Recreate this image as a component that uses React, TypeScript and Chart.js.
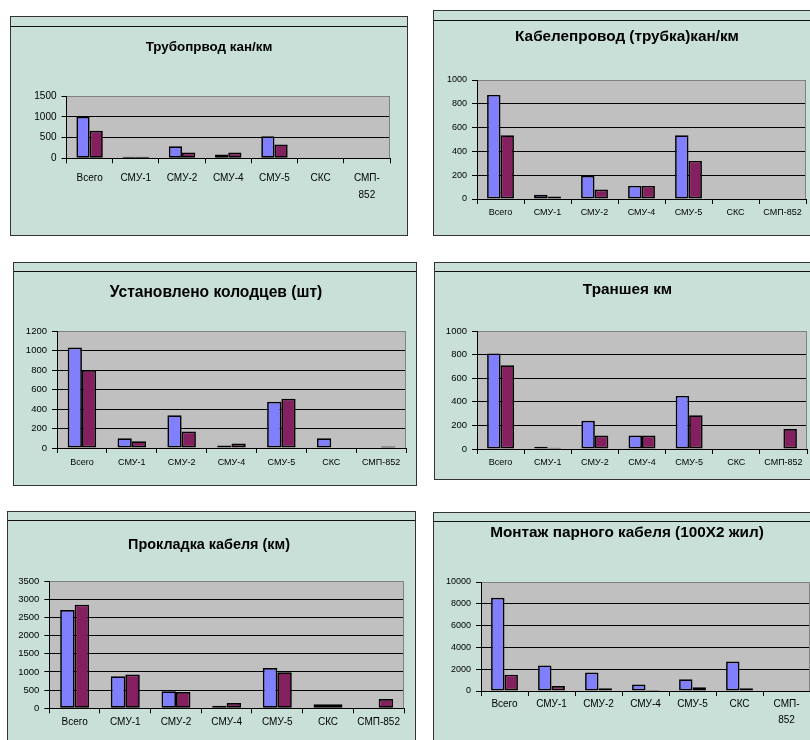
import React, { useEffect, useRef } from 'react';
import { Chart, registerables } from 'chart.js';

Chart.register(...registerables);

// ---------- data ----------
const categories = ['Всего', 'СМУ-1', 'СМУ-2', 'СМУ-4', 'СМУ-5', 'СКС', 'СМП-852'];
const categoriesWrapped = ['Всего', 'СМУ-1', 'СМУ-2', 'СМУ-4', 'СМУ-5', 'СКС', ['СМП-', '852']];
const seriesNames = ['Ряд1', 'Ряд2'];

const pipeTitle = 'Трубопрвод кан/км';
const pipeSeries1 = [1000, 40, 290, 90, 530, 0, 0];
const pipeSeries2 = [665, 40, 140, 140, 335, 0, 0];
const pipeAxis = [0, 1500, 500];

const conduitTitle = 'Кабелепровод (трубка)кан/км';
const conduitSeries1 = [875, 35, 195, 110, 535, 0, 0];
const conduitSeries2 = [535, 20, 80, 110, 320, 0, 0];
const conduitAxis = [0, 1000, 200];

const wellsTitle = 'Установлено колодцев (шт)';
const wellsSeries1 = [1030, 100, 335, 25, 475, 100, 0];
const wellsSeries2 = [800, 70, 170, 45, 505, 0, 15];
const wellsAxis = [0, 1200, 200];

const trenchTitle = 'Траншея км';
const trenchSeries1 = [810, 20, 240, 115, 450, 0, 0];
const trenchSeries2 = [710, 10, 115, 115, 285, 0, 170];
const trenchAxis = [0, 1000, 200];

const cableTitle = 'Прокладка кабеля (км)';
const cableSeries1 = [2700, 880, 470, 70, 1110, 110, 0];
const cableSeries2 = [2850, 930, 450, 145, 990, 110, 255];
const cableAxis = [0, 3500, 500];

const mountTitle = 'Монтаж парного кабеля (100X2 жил)';
const mountSeries1 = [8550, 2350, 1700, 600, 1070, 2700, 0];
const mountSeries2 = [1500, 450, 250, 100, 350, 250, 0];
const mountAxis = [0, 10000, 2000];

// ---------- styles ----------
const FONT = "'Liberation Sans', Arial, sans-serif";
const PANEL_BG = '#C8E0D8';
const PLOT_BG = '#C0C0C0';
const BLUE = '#8080FF';
const PLUM = '#84205F';

type Panel = {
  title: string;
  labels: (string | string[])[];
  s1: number[];
  s2: number[];
  axis: number[];
  left: number; top: number; width: number; height: number; lineY: number;
  pl: number; pt: number; pr: number; pb: number;
  titleX: number; titleY: number; titleSize: number;
  xFont: number; xLH: number; xOff: number; yFont: number;
};

const panels: Panel[] = [
  { title: pipeTitle, labels: categoriesWrapped, s1: pipeSeries1, s2: pipeSeries2, axis: pipeAxis,
    left: 10, top: 16, width: 398, height: 220, lineY: 10,
    pl: 66.5, pt: 96, pr: 390, pb: 158.3, titleX: 209, titleY: 47, titleSize: 13.4,
    xFont: 10, xLH: 1.7, xOff: 20, yFont: 10 },
  { title: conduitTitle, labels: categories, s1: conduitSeries1, s2: conduitSeries2, axis: conduitAxis,
    left: 433, top: 10, width: 388, height: 226, lineY: 10,
    pl: 477, pt: 80, pr: 806, pb: 199, titleX: 627, titleY: 37, titleSize: 15.3,
    xFont: 9, xLH: 1.2, xOff: 14, yFont: 9 },
  { title: wellsTitle, labels: categories, s1: wellsSeries1, s2: wellsSeries2, axis: wellsAxis,
    left: 13, top: 262, width: 404, height: 224, lineY: 9,
    pl: 57, pt: 331, pr: 406, pb: 448, titleX: 216, titleY: 293, titleSize: 15.6,
    xFont: 9, xLH: 1.2, xOff: 15, yFont: 9.5 },
  { title: trenchTitle, labels: categories, s1: trenchSeries1, s2: trenchSeries2, axis: trenchAxis,
    left: 434, top: 262, width: 387, height: 218, lineY: 9,
    pl: 477, pt: 331, pr: 807, pb: 449, titleX: 627.5, titleY: 290, titleSize: 15.3,
    xFont: 9, xLH: 1.2, xOff: 14, yFont: 9.5 },
  { title: cableTitle, labels: categories, s1: cableSeries1, s2: cableSeries2, axis: cableAxis,
    left: 7, top: 511, width: 409, height: 239, lineY: 9,
    pl: 49.3, pt: 581, pr: 404, pb: 708.3, titleX: 209, titleY: 545, titleSize: 14.4,
    xFont: 10, xLH: 1.2, xOff: 14, yFont: 9.5 },
  { title: mountTitle, labels: categoriesWrapped, s1: mountSeries1, s2: mountSeries2, axis: mountAxis,
    left: 433, top: 512, width: 388, height: 238, lineY: 9,
    pl: 481, pt: 582, pr: 810, pb: 691, titleX: 627, titleY: 533, titleSize: 15.3,
    xFont: 10, xLH: 1.6, xOff: 13, yFont: 9 },
];

const plotDecor = {
  id: 'plotDecor',
  afterLayout(chart: any, _args: any, opts: any) {
    const t = chart.titleBlock;
    if (t && typeof opts.titleCenter === 'number') {
      const w = t.right - t.left;
      t.left = opts.titleCenter - w / 2;
      t.right = opts.titleCenter + w / 2;
    }
  },
  beforeDraw(chart: any) {
    const { ctx, chartArea: a } = chart;
    ctx.save();
    ctx.fillStyle = PLOT_BG;
    ctx.fillRect(a.left, a.top, a.right - a.left, a.bottom - a.top);
    ctx.restore();
  },
  afterDraw(chart: any) {
    const { ctx, chartArea: a } = chart;
    ctx.save();
    ctx.strokeStyle = '#808080';
    ctx.lineWidth = 1;
    const x = Math.round(a.right) - 0.5;
    ctx.beginPath();
    ctx.moveTo(x, a.top);
    ctx.lineTo(x, a.bottom);
    ctx.stroke();
    ctx.restore();
  },
};

function BarPanel({ p }: { p: Panel }) {
  const ref = useRef<HTMLCanvasElement>(null);
  useEffect(() => {
    if (!ref.current) return;
    const plotL = p.pl - p.left;
    const plotT = p.pt - p.top;
    const plotR = p.pr - p.left;
    const plotB = p.pb - p.top;
    const padR = p.width - plotR;
    const padL = 2;
    const yw = plotL - padL;
    const xh = Math.min(50, p.height - plotB);
    const tl = 5;
    const tLH = p.titleSize * 1.2;
    const ta = p.titleY - p.top - tLH / 2;
    const tb = plotT - ta - tLH;
    const [ymin, ymax, ystep] = p.axis;
    const chart = new Chart(ref.current, {
      type: 'bar',
      data: {
        labels: p.labels as any,
        datasets: [
          { label: seriesNames[0], data: p.s1, backgroundColor: BLUE, borderColor: '#000', borderWidth: 1.7, borderSkipped: false },
          { label: seriesNames[1], data: p.s2, backgroundColor: PLUM, borderColor: '#000', borderWidth: 1.7, borderSkipped: false },
        ],
      },
      options: {
        responsive: false,
        animation: false,
        layout: { padding: { left: padL, right: padR, top: 0, bottom: p.height - plotB - xh } },
        datasets: { bar: { categoryPercentage: 2 / 3.5, barPercentage: 1 } },
        plugins: {
          legend: { display: false },
          tooltip: { enabled: false },
          title: {
            display: true,
            text: p.title,
            color: '#000',
            font: { family: FONT, size: p.titleSize, weight: 'bold', lineHeight: 1.2 },
            padding: { top: ta, bottom: tb },
          },
          plotDecor: { titleCenter: p.titleX - p.left },
        } as any,
        scales: {
          x: {
            grid: { display: true, drawOnChartArea: false, drawTicks: true, tickLength: tl, color: '#000', offset: true },
            border: { display: true, color: '#000', width: 1 },
            ticks: {
              color: '#000',
              font: { family: FONT, size: p.xFont, lineHeight: p.xLH },
              padding: p.xOff - tl - (p.xFont * p.xLH) / 2,
              maxRotation: 0,
              autoSkip: false,
            },
            afterFit: (s: any) => { s.height = xh; },
          },
          y: {
            min: ymin,
            max: ymax,
            ticks: {
              stepSize: ystep,
              color: '#000',
              font: { family: FONT, size: p.yFont },
              padding: 5,
              callback: (v: any) => String(v),
            },
            grid: {
              color: (c: any) => (c.tick && c.tick.value === ymax ? '#808080' : '#000'),
              tickColor: '#000',
              tickLength: 5,
              lineWidth: 1,
            },
            border: { display: true, color: '#000', width: 1 },
            afterFit: (s: any) => { s.width = yw; },
          },
        },
      },
      plugins: [plotDecor],
    });
    return () => chart.destroy();
  }, [p]);

  return (
    <div style={{ position: 'absolute', left: p.left, top: p.top, width: p.width, height: p.height, background: PANEL_BG }}>
      <canvas ref={ref} width={p.width} height={p.height} style={{ position: 'absolute', left: 0, top: 0, width: p.width, height: p.height }} />
      <div style={{ position: 'absolute', left: 0, top: p.lineY, width: p.width, height: 0, borderTop: '1px solid #111' }} />
      <div style={{ position: 'absolute', left: 0, top: 0, width: p.width, height: p.height, boxSizing: 'border-box', border: '1.5px solid #333', pointerEvents: 'none' }} />
    </div>
  );
}

export default function App() {
  return (
    <div style={{ position: 'absolute', left: 0, top: 0, width: 810, height: 740, overflow: 'hidden', background: '#fff' }}>
      {panels.map((p, i) => <BarPanel key={i} p={p} />)}
    </div>
  );
}
